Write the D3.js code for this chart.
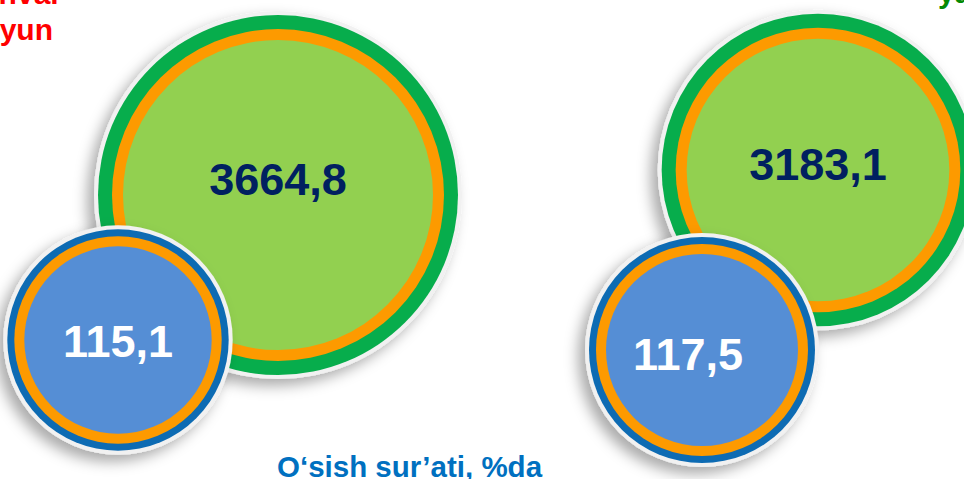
<!DOCTYPE html>
<html>
<head>
<meta charset="utf-8">
<script src="https://cdn.jsdelivr.net/npm/d3@7/dist/d3.min.js"></script>
<style>
  html, body { margin: 0; padding: 0; background: #ffffff; }
  svg { display: block; font-family: "Liberation Sans", Arial, sans-serif; }
</style>
</head>
<body>
<svg id="chart" width="964" height="479"></svg>
<script>
// ---- data ----
const periods = ["yanvar-iyun (1)", "yanvar-iyun (2)"];
const volumes = [3664.8, 3183.1];       // big green bubbles
const growthRates = [115.1, 117.5];     // small blue bubbles, %
const leftTitleLines = ["yanvar", "iyun"];
const rightTitle = "yanvar-iyun";
const footnote = "O\u2018sish sur\u2019ati, %da";

// ---- layout (positions kept apart from data) ----
const bigAnchors = [{cx: 278, cy: 195, ldx: 0, ldy: 0}, {cx: 818, cy: 170, ldx: 0, ldy: 10}];
const smallAnchors = [{cx: 118, cy: 340, ldx: 0, ldy: 17}, {cx: 702, cy: 350, ldx: -14, ldy: 20}];

const fmtLocale = d3.formatLocale({decimal: ",", thousands: " ", grouping: [3], currency: ["", ""]});
const fmt = fmtLocale.format(".1f");

const svg = d3.select("#chart");

const defs = svg.append("defs");
const f = defs.append("filter").attr("id", "shadow")
  .attr("x", "-30%").attr("y", "-30%").attr("width", "160%").attr("height", "160%");
f.append("feDropShadow").attr("dx", -7).attr("dy", 7).attr("stdDeviation", 7)
  .attr("flood-color", "#000").attr("flood-opacity", 0.33);

const rBig = d3.scaleLinear().domain([0, d3.max(volumes)]).range([0, 180]);
const rSmall = d3.scaleLinear().domain([0, d3.max(growthRates)]).range([0, 113]);

const bigData = periods.map((p, i) => ({period: p, value: volumes[i], ...bigAnchors[i]}));
const smallData = periods.map((p, i) => ({period: p, value: growthRates[i], ...smallAnchors[i]}));

function drawBubbles(data, rScale, outerColor, outerBand, ringColor, ringBand, fillColor, textColor) {
  const g = svg.append("g").selectAll("g").data(data).join("g")
    .attr("transform", d => `translate(${d.cx},${d.cy})`);
  g.append("circle").attr("r", d => rScale(d.value) + 4)
    .attr("fill", "#f1f1f1").attr("filter", "url(#shadow)");
  g.append("circle").attr("r", d => rScale(d.value)).attr("fill", outerColor);
  g.append("circle").attr("r", d => rScale(d.value) - outerBand).attr("fill", ringColor);
  g.append("circle").attr("r", d => rScale(d.value) - outerBand - ringBand).attr("fill", fillColor);
  g.append("text")
    .attr("x", d => d.ldx).attr("y", d => d.ldy)
    .attr("text-anchor", "middle")
    .attr("font-size", 45).attr("font-weight", "bold")
    .attr("fill", textColor)
    .text(d => fmt(d.value));
}

drawBubbles(bigData, rBig, "#07ad4c", 14, "#fd9a00", 11, "#92d050", "#002060");
drawBubbles(smallData, rSmall, "#0d6bb3", 7, "#fd9a00", 10, "#558ed5", "#ffffff");

// titles
svg.append("text").attr("x", 62).attr("y", 4)
  .attr("text-anchor", "end").attr("font-size", 30).attr("font-weight", "bold")
  .attr("fill", "#ff0000").text(leftTitleLines[0]);
svg.append("text").attr("x", 53).attr("y", 40)
  .attr("text-anchor", "end").attr("font-size", 30).attr("font-weight", "bold")
  .attr("fill", "#ff0000").text(leftTitleLines[1]);
svg.append("text").attr("x", 938).attr("y", 3)
  .attr("font-size", 30).attr("font-weight", "bold")
  .attr("fill", "#058a05").text(rightTitle);

svg.append("text").attr("x", 277).attr("y", 477)
  .attr("font-size", 29.5).attr("font-weight", "bold")
  .attr("fill", "#0070c0").text(footnote);
</script>
</body>
</html>
